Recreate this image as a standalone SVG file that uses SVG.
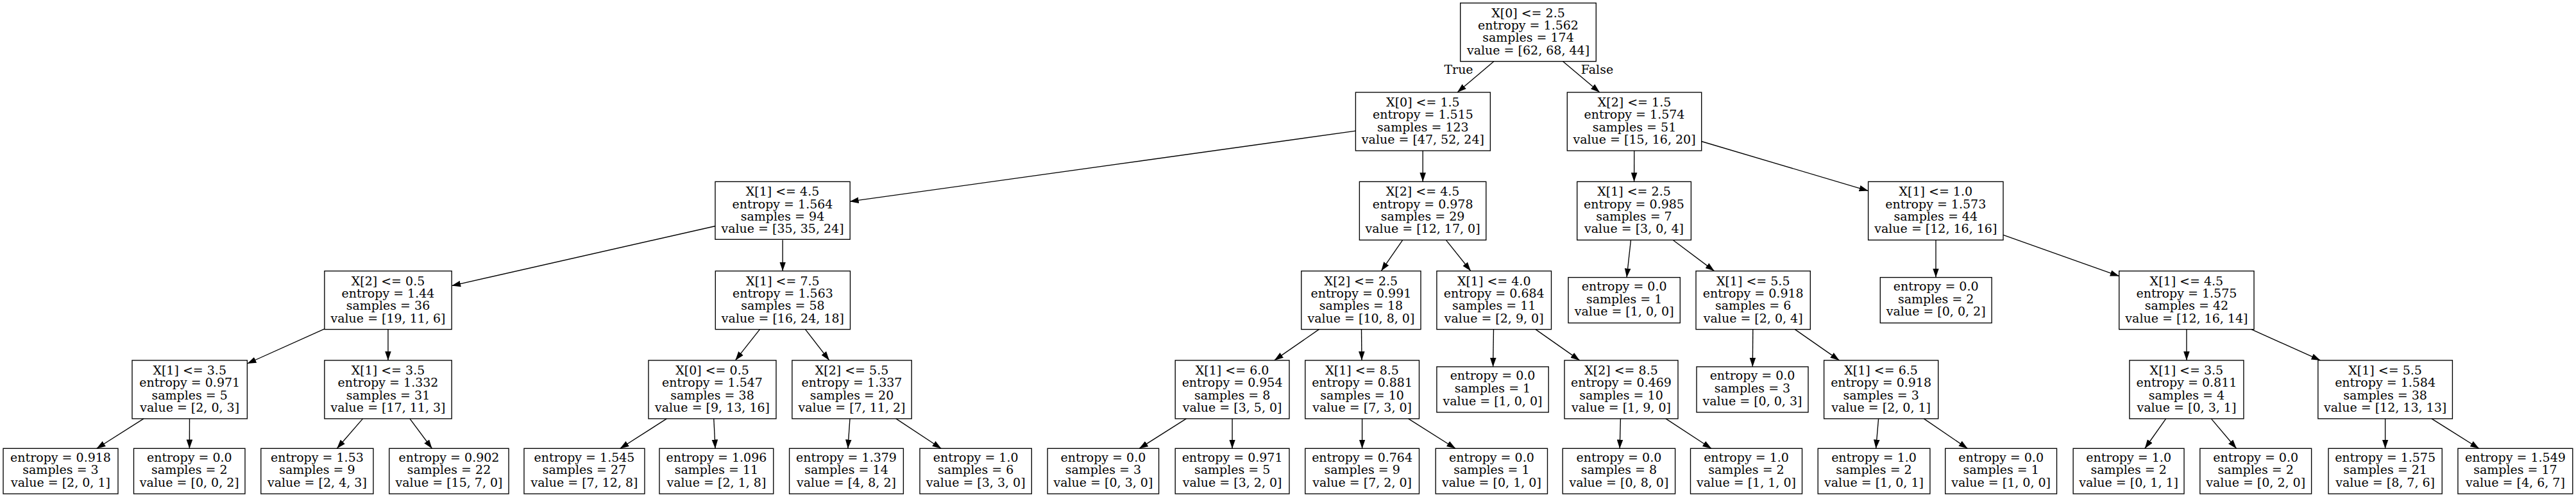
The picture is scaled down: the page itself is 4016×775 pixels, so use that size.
<svg xmlns="http://www.w3.org/2000/svg" width="4016" height="775" viewBox="0 0 4016 775">
<defs>
<style>
.n rect{fill:#fff;stroke:#000;stroke-width:1.35}
text{font-family:"DejaVu Serif","Liberation Serif",serif;font-size:19px;fill:#000;text-anchor:middle}
.e line{stroke:#000;stroke-width:1.35;marker-end:url(#ah)}
</style>
<marker id="ah" viewBox="0 0 14 10" refX="14" refY="5" markerWidth="14" markerHeight="10" markerUnits="userSpaceOnUse" orient="auto"><path d="M0,0.2 L14,5 L0,9.8 z" fill="#000"/></marker>
</defs>
<rect x="0" y="0" width="4016" height="775" fill="#fff"/>
<g id="edges" class="e">
<line x1="2328.9" y1="95.7" x2="2272" y2="144"/>
<line x1="2436.6" y1="95.7" x2="2493.9" y2="144"/>
<line x1="2113.4" y1="204.2" x2="1324.7" y2="314.2"/>
<line x1="2218.2" y1="235" x2="2218.2" y2="283.3"/>
<line x1="2547.8" y1="235" x2="2547.6" y2="283.3"/>
<line x1="2652.7" y1="220.5" x2="2912.6" y2="297.6"/>
<line x1="1115.4" y1="352.5" x2="704.2" y2="445.6"/>
<line x1="1220.2" y1="374.3" x2="1220.2" y2="422.6"/>
<line x1="2186.7" y1="374.3" x2="2153.3" y2="422.6"/>
<line x1="2254.4" y1="374.3" x2="2292.9" y2="422.6"/>
<line x1="2542.5" y1="374.3" x2="2536.1" y2="432.6"/>
<line x1="2608.1" y1="374.3" x2="2672.6" y2="422.6"/>
<line x1="3018" y1="374.3" x2="3018" y2="432.6"/>
<line x1="3123" y1="366.3" x2="3303.8" y2="430.6"/>
<line x1="505.9" y1="512.8" x2="385.4" y2="567"/>
<line x1="605" y1="513.6" x2="605" y2="561.9"/>
<line x1="1184.5" y1="513.6" x2="1146.4" y2="561.9"/>
<line x1="1255.5" y1="513.6" x2="1292.9" y2="561.9"/>
<line x1="2056.3" y1="513.6" x2="1986.7" y2="561.9"/>
<line x1="2122.5" y1="513.6" x2="2123" y2="561.9"/>
<line x1="2328.5" y1="513.6" x2="2327.6" y2="571.9"/>
<line x1="2394" y1="513.6" x2="2462.7" y2="561.9"/>
<line x1="2732.8" y1="513.6" x2="2732.3" y2="571.9"/>
<line x1="2798.3" y1="513.6" x2="2867.5" y2="561.9"/>
<line x1="3408.9" y1="513.6" x2="3408.9" y2="561.9"/>
<line x1="3510" y1="513.6" x2="3617.5" y2="561.9"/>
<line x1="224" y1="652.9" x2="150.5" y2="699.5"/>
<line x1="295.5" y1="652.9" x2="295.4" y2="699.5"/>
<line x1="565.6" y1="652.9" x2="525.2" y2="699.5"/>
<line x1="638.9" y1="652.9" x2="673.6" y2="699.5"/>
<line x1="1039.4" y1="652.9" x2="966.5" y2="699.5"/>
<line x1="1112.8" y1="652.9" x2="1115.1" y2="699.5"/>
<line x1="1325" y1="652.9" x2="1321.9" y2="699.5"/>
<line x1="1396.9" y1="652.9" x2="1467.5" y2="699.5"/>
<line x1="1849.4" y1="652.9" x2="1775.9" y2="699.5"/>
<line x1="1921.1" y1="652.9" x2="1921.1" y2="699.5"/>
<line x1="2123.6" y1="652.9" x2="2123.6" y2="699.5"/>
<line x1="2195.6" y1="652.9" x2="2269.3" y2="699.5"/>
<line x1="2526.4" y1="652.9" x2="2525.2" y2="699.5"/>
<line x1="2597" y1="652.9" x2="2668.2" y2="699.5"/>
<line x1="2928.6" y1="652.9" x2="2924.6" y2="699.5"/>
<line x1="2999.3" y1="652.9" x2="3067.6" y2="699.5"/>
<line x1="3376.7" y1="652.9" x2="3343.7" y2="699.5"/>
<line x1="3447.3" y1="652.9" x2="3486.7" y2="699.5"/>
<line x1="3718.6" y1="652.9" x2="3718.6" y2="699.5"/>
<line x1="3790.9" y1="652.9" x2="3865" y2="699.5"/>
<text x="2274" y="115">True</text>
<text x="2490" y="115">False</text>
</g>
<g id="n0" class="n"><rect x="2276.7" y="4.7" width="211.6" height="91"/><text><tspan x="2382.5" y="26.6">X[0] &lt;= 2.5</tspan><tspan x="2382.5" y="46">entropy = 1.562</tspan><tspan x="2382.5" y="65.4">samples = 174</tspan><tspan x="2382.5" y="84.8">value = [62, 68, 44]</tspan></text></g>
<g id="n1" class="n"><rect x="2113.4" y="144" width="210" height="91"/><text><tspan x="2218.4" y="165.9">X[0] &lt;= 1.5</tspan><tspan x="2218.4" y="185.3">entropy = 1.515</tspan><tspan x="2218.4" y="204.7">samples = 123</tspan><tspan x="2218.4" y="224.1">value = [47, 52, 24]</tspan></text></g>
<g id="n2" class="n"><rect x="2443.3" y="144" width="209.4" height="91"/><text><tspan x="2548" y="165.9">X[2] &lt;= 1.5</tspan><tspan x="2548" y="185.3">entropy = 1.574</tspan><tspan x="2548" y="204.7">samples = 51</tspan><tspan x="2548" y="224.1">value = [15, 16, 20]</tspan></text></g>
<g id="n3" class="n"><rect x="1115" y="283.3" width="210.2" height="90"/><text><tspan x="1220" y="305.2">X[1] &lt;= 4.5</tspan><tspan x="1220" y="324.6">entropy = 1.564</tspan><tspan x="1220" y="344">samples = 94</tspan><tspan x="1220" y="363.4">value = [35, 35, 24]</tspan></text></g>
<g id="n4" class="n"><rect x="2119.4" y="283.3" width="197.4" height="91"/><text><tspan x="2218.1" y="305.2">X[2] &lt;= 4.5</tspan><tspan x="2218.1" y="324.6">entropy = 0.978</tspan><tspan x="2218.1" y="344">samples = 29</tspan><tspan x="2218.1" y="363.4">value = [12, 17, 0]</tspan></text></g>
<g id="n5" class="n"><rect x="2458.7" y="283.3" width="177.7" height="91"/><text><tspan x="2547.5" y="305.2">X[1] &lt;= 2.5</tspan><tspan x="2547.5" y="324.6">entropy = 0.985</tspan><tspan x="2547.5" y="344">samples = 7</tspan><tspan x="2547.5" y="363.4">value = [3, 0, 4]</tspan></text></g>
<g id="n6" class="n"><rect x="2912.6" y="283.3" width="210.4" height="91"/><text><tspan x="3017.8" y="305.2">X[1] &lt;= 1.0</tspan><tspan x="3017.8" y="324.6">entropy = 1.573</tspan><tspan x="3017.8" y="344">samples = 44</tspan><tspan x="3017.8" y="363.4">value = [12, 16, 16]</tspan></text></g>
<g id="n7" class="n"><rect x="505.9" y="422.6" width="198.3" height="91"/><text><tspan x="605" y="444.5">X[2] &lt;= 0.5</tspan><tspan x="605" y="463.9">entropy = 1.44</tspan><tspan x="605" y="483.3">samples = 36</tspan><tspan x="605" y="502.7">value = [19, 11, 6]</tspan></text></g>
<g id="n8" class="n"><rect x="1115.3" y="422.6" width="210.2" height="91"/><text><tspan x="1220.4" y="444.5">X[1] &lt;= 7.5</tspan><tspan x="1220.4" y="463.9">entropy = 1.563</tspan><tspan x="1220.4" y="483.3">samples = 58</tspan><tspan x="1220.4" y="502.7">value = [16, 24, 18]</tspan></text></g>
<g id="n9" class="n"><rect x="2028.8" y="422.6" width="186.2" height="91"/><text><tspan x="2121.9" y="444.5">X[2] &lt;= 2.5</tspan><tspan x="2121.9" y="463.9">entropy = 0.991</tspan><tspan x="2121.9" y="483.3">samples = 18</tspan><tspan x="2121.9" y="502.7">value = [10, 8, 0]</tspan></text></g>
<g id="n10" class="n"><rect x="2239.9" y="422.6" width="178.6" height="91"/><text><tspan x="2329.2" y="444.5">X[1] &lt;= 4.0</tspan><tspan x="2329.2" y="463.9">entropy = 0.684</tspan><tspan x="2329.2" y="483.3">samples = 11</tspan><tspan x="2329.2" y="502.7">value = [2, 9, 0]</tspan></text></g>
<g id="n11" class="n"><rect x="2445" y="432.6" width="174.3" height="71"/><text><tspan x="2532.2" y="453.1">entropy = 0.0</tspan><tspan x="2532.2" y="472.7">samples = 1</tspan><tspan x="2532.2" y="492.3">value = [1, 0, 0]</tspan></text></g>
<g id="n12" class="n"><rect x="2644" y="422.6" width="178.3" height="91"/><text><tspan x="2733.2" y="444.5">X[1] &lt;= 5.5</tspan><tspan x="2733.2" y="463.9">entropy = 0.918</tspan><tspan x="2733.2" y="483.3">samples = 6</tspan><tspan x="2733.2" y="502.7">value = [2, 0, 4]</tspan></text></g>
<g id="n13" class="n"><rect x="2931.3" y="432.6" width="173.8" height="71"/><text><tspan x="3018.2" y="453.1">entropy = 0.0</tspan><tspan x="3018.2" y="472.7">samples = 2</tspan><tspan x="3018.2" y="492.3">value = [0, 0, 2]</tspan></text></g>
<g id="n14" class="n"><rect x="3303.7" y="422.6" width="210.3" height="91"/><text><tspan x="3408.9" y="444.5">X[1] &lt;= 4.5</tspan><tspan x="3408.9" y="463.9">entropy = 1.575</tspan><tspan x="3408.9" y="483.3">samples = 42</tspan><tspan x="3408.9" y="502.7">value = [12, 16, 14]</tspan></text></g>
<g id="n15" class="n"><rect x="206" y="561.9" width="179.4" height="91"/><text><tspan x="295.7" y="583.8">X[1] &lt;= 3.5</tspan><tspan x="295.7" y="603.2">entropy = 0.971</tspan><tspan x="295.7" y="622.6">samples = 5</tspan><tspan x="295.7" y="642">value = [2, 0, 3]</tspan></text></g>
<g id="n16" class="n"><rect x="505.9" y="561.9" width="198.3" height="91"/><text><tspan x="605" y="583.8">X[1] &lt;= 3.5</tspan><tspan x="605" y="603.2">entropy = 1.332</tspan><tspan x="605" y="622.6">samples = 31</tspan><tspan x="605" y="642">value = [17, 11, 3]</tspan></text></g>
<g id="n17" class="n"><rect x="1011" y="561.9" width="199" height="91"/><text><tspan x="1110.5" y="583.8">X[0] &lt;= 0.5</tspan><tspan x="1110.5" y="603.2">entropy = 1.547</tspan><tspan x="1110.5" y="622.6">samples = 38</tspan><tspan x="1110.5" y="642">value = [9, 13, 16]</tspan></text></g>
<g id="n18" class="n"><rect x="1234.9" y="561.9" width="186.3" height="91"/><text><tspan x="1328" y="583.8">X[2] &lt;= 5.5</tspan><tspan x="1328" y="603.2">entropy = 1.337</tspan><tspan x="1328" y="622.6">samples = 20</tspan><tspan x="1328" y="642">value = [7, 11, 2]</tspan></text></g>
<g id="n19" class="n"><rect x="1832.2" y="561.9" width="177.8" height="91"/><text><tspan x="1921.1" y="583.8">X[1] &lt;= 6.0</tspan><tspan x="1921.1" y="603.2">entropy = 0.954</tspan><tspan x="1921.1" y="622.6">samples = 8</tspan><tspan x="1921.1" y="642">value = [3, 5, 0]</tspan></text></g>
<g id="n20" class="n"><rect x="2034.8" y="561.9" width="177.7" height="91"/><text><tspan x="2123.6" y="583.8">X[1] &lt;= 8.5</tspan><tspan x="2123.6" y="603.2">entropy = 0.881</tspan><tspan x="2123.6" y="622.6">samples = 10</tspan><tspan x="2123.6" y="642">value = [7, 3, 0]</tspan></text></g>
<g id="n21" class="n"><rect x="2239.9" y="571.9" width="174.3" height="71"/><text><tspan x="2327" y="592.4">entropy = 0.0</tspan><tspan x="2327" y="612">samples = 1</tspan><tspan x="2327" y="631.6">value = [1, 0, 0]</tspan></text></g>
<g id="n22" class="n"><rect x="2439" y="561.9" width="177" height="91"/><text><tspan x="2527.5" y="583.8">X[2] &lt;= 8.5</tspan><tspan x="2527.5" y="603.2">entropy = 0.469</tspan><tspan x="2527.5" y="622.6">samples = 10</tspan><tspan x="2527.5" y="642">value = [1, 9, 0]</tspan></text></g>
<g id="n23" class="n"><rect x="2645" y="571.9" width="174" height="71"/><text><tspan x="2732" y="592.4">entropy = 0.0</tspan><tspan x="2732" y="612">samples = 3</tspan><tspan x="2732" y="631.6">value = [0, 0, 3]</tspan></text></g>
<g id="n24" class="n"><rect x="2843.6" y="561.9" width="178.1" height="91"/><text><tspan x="2932.6" y="583.8">X[1] &lt;= 6.5</tspan><tspan x="2932.6" y="603.2">entropy = 0.918</tspan><tspan x="2932.6" y="622.6">samples = 3</tspan><tspan x="2932.6" y="642">value = [2, 0, 1]</tspan></text></g>
<g id="n25" class="n"><rect x="3319.9" y="561.9" width="178" height="91"/><text><tspan x="3408.9" y="583.8">X[1] &lt;= 3.5</tspan><tspan x="3408.9" y="603.2">entropy = 0.811</tspan><tspan x="3408.9" y="622.6">samples = 4</tspan><tspan x="3408.9" y="642">value = [0, 3, 1]</tspan></text></g>
<g id="n26" class="n"><rect x="3613.8" y="561.9" width="209.6" height="91"/><text><tspan x="3718.6" y="583.8">X[1] &lt;= 5.5</tspan><tspan x="3718.6" y="603.2">entropy = 1.584</tspan><tspan x="3718.6" y="622.6">samples = 38</tspan><tspan x="3718.6" y="642">value = [12, 13, 13]</tspan></text></g>
<g id="n27" class="n"><rect x="5" y="699.3" width="179" height="70.7"/><text><tspan x="94.5" y="719.8">entropy = 0.918</tspan><tspan x="94.5" y="739.4">samples = 3</tspan><tspan x="94.5" y="759">value = [2, 0, 1]</tspan></text></g>
<g id="n28" class="n"><rect x="208.5" y="699.3" width="173.5" height="70.7"/><text><tspan x="295.3" y="719.8">entropy = 0.0</tspan><tspan x="295.3" y="739.4">samples = 2</tspan><tspan x="295.3" y="759">value = [0, 0, 2]</tspan></text></g>
<g id="n29" class="n"><rect x="406.8" y="699.3" width="175.2" height="70.7"/><text><tspan x="494.4" y="719.8">entropy = 1.53</tspan><tspan x="494.4" y="739.4">samples = 9</tspan><tspan x="494.4" y="759">value = [2, 4, 3]</tspan></text></g>
<g id="n30" class="n"><rect x="606.8" y="699.3" width="186.3" height="70.7"/><text><tspan x="700" y="719.8">entropy = 0.902</tspan><tspan x="700" y="739.4">samples = 22</tspan><tspan x="700" y="759">value = [15, 7, 0]</tspan></text></g>
<g id="n31" class="n"><rect x="817" y="699.3" width="188" height="70.7"/><text><tspan x="911" y="719.8">entropy = 1.545</tspan><tspan x="911" y="739.4">samples = 27</tspan><tspan x="911" y="759">value = [7, 12, 8]</tspan></text></g>
<g id="n32" class="n"><rect x="1028" y="699.3" width="177.8" height="70.7"/><text><tspan x="1116.9" y="719.8">entropy = 1.096</tspan><tspan x="1116.9" y="739.4">samples = 11</tspan><tspan x="1116.9" y="759">value = [2, 1, 8]</tspan></text></g>
<g id="n33" class="n"><rect x="1230.6" y="699.3" width="177.8" height="70.7"/><text><tspan x="1319.5" y="719.8">entropy = 1.379</tspan><tspan x="1319.5" y="739.4">samples = 14</tspan><tspan x="1319.5" y="759">value = [4, 8, 2]</tspan></text></g>
<g id="n34" class="n"><rect x="1434" y="699.3" width="174.3" height="70.7"/><text><tspan x="1521.2" y="719.8">entropy = 1.0</tspan><tspan x="1521.2" y="739.4">samples = 6</tspan><tspan x="1521.2" y="759">value = [3, 3, 0]</tspan></text></g>
<g id="n35" class="n"><rect x="1633.1" y="699.3" width="173.5" height="70.7"/><text><tspan x="1719.9" y="719.8">entropy = 0.0</tspan><tspan x="1719.9" y="739.4">samples = 3</tspan><tspan x="1719.9" y="759">value = [0, 3, 0]</tspan></text></g>
<g id="n36" class="n"><rect x="1832.2" y="699.3" width="177.8" height="70.7"/><text><tspan x="1921.1" y="719.8">entropy = 0.971</tspan><tspan x="1921.1" y="739.4">samples = 5</tspan><tspan x="1921.1" y="759">value = [3, 2, 0]</tspan></text></g>
<g id="n37" class="n"><rect x="2034.8" y="699.3" width="177.7" height="70.7"/><text><tspan x="2123.6" y="719.8">entropy = 0.764</tspan><tspan x="2123.6" y="739.4">samples = 9</tspan><tspan x="2123.6" y="759">value = [7, 2, 0]</tspan></text></g>
<g id="n38" class="n"><rect x="2238.2" y="699.3" width="174.3" height="70.7"/><text><tspan x="2325.4" y="719.8">entropy = 0.0</tspan><tspan x="2325.4" y="739.4">samples = 1</tspan><tspan x="2325.4" y="759">value = [0, 1, 0]</tspan></text></g>
<g id="n39" class="n"><rect x="2436.2" y="699.3" width="175.4" height="70.7"/><text><tspan x="2523.9" y="719.8">entropy = 0.0</tspan><tspan x="2523.9" y="739.4">samples = 8</tspan><tspan x="2523.9" y="759">value = [0, 8, 0]</tspan></text></g>
<g id="n40" class="n"><rect x="2635.5" y="699.3" width="174" height="70.7"/><text><tspan x="2722.5" y="719.8">entropy = 1.0</tspan><tspan x="2722.5" y="739.4">samples = 2</tspan><tspan x="2722.5" y="759">value = [1, 1, 0]</tspan></text></g>
<g id="n41" class="n"><rect x="2834.2" y="699.3" width="174.7" height="70.7"/><text><tspan x="2921.5" y="719.8">entropy = 1.0</tspan><tspan x="2921.5" y="739.4">samples = 2</tspan><tspan x="2921.5" y="759">value = [1, 0, 1]</tspan></text></g>
<g id="n42" class="n"><rect x="3032.7" y="699.3" width="173.8" height="70.7"/><text><tspan x="3119.6" y="719.8">entropy = 0.0</tspan><tspan x="3119.6" y="739.4">samples = 1</tspan><tspan x="3119.6" y="759">value = [1, 0, 0]</tspan></text></g>
<g id="n43" class="n"><rect x="3232.1" y="699.3" width="172.9" height="70.7"/><text><tspan x="3318.6" y="719.8">entropy = 1.0</tspan><tspan x="3318.6" y="739.4">samples = 2</tspan><tspan x="3318.6" y="759">value = [0, 1, 1]</tspan></text></g>
<g id="n44" class="n"><rect x="3429.8" y="699.3" width="173.8" height="70.7"/><text><tspan x="3516.7" y="719.8">entropy = 0.0</tspan><tspan x="3516.7" y="739.4">samples = 2</tspan><tspan x="3516.7" y="759">value = [0, 2, 0]</tspan></text></g>
<g id="n45" class="n"><rect x="3630" y="699.3" width="177.2" height="70.7"/><text><tspan x="3718.6" y="719.8">entropy = 1.575</tspan><tspan x="3718.6" y="739.4">samples = 21</tspan><tspan x="3718.6" y="759">value = [8, 7, 6]</tspan></text></g>
<g id="n46" class="n"><rect x="3831.9" y="699.3" width="178.9" height="70.7"/><text><tspan x="3921.4" y="719.8">entropy = 1.549</tspan><tspan x="3921.4" y="739.4">samples = 17</tspan><tspan x="3921.4" y="759">value = [4, 6, 7]</tspan></text></g>
</svg>
